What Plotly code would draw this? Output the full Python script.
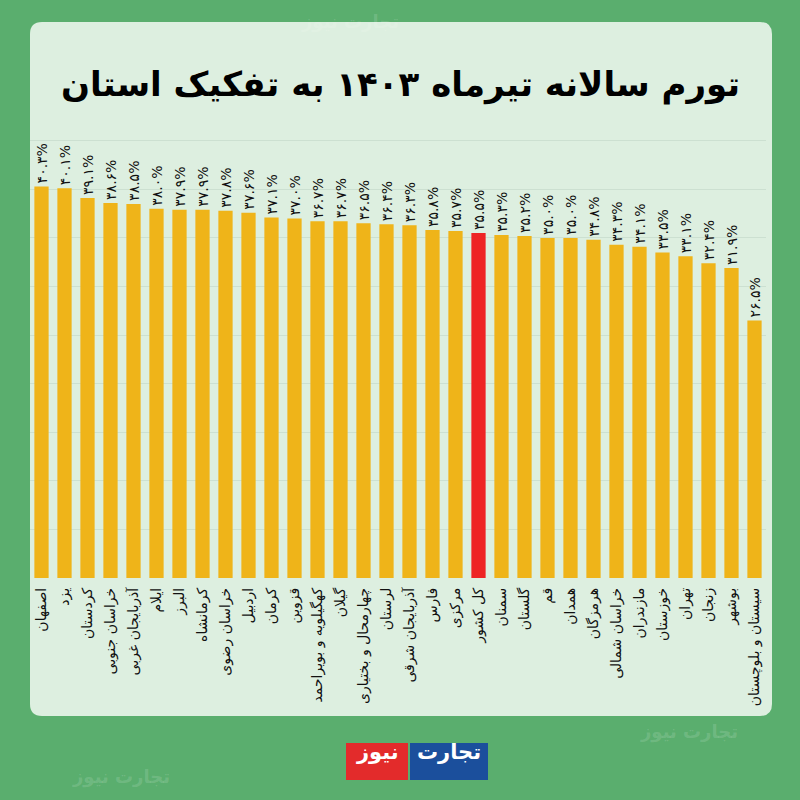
import plotly.graph_objects as go

provinces = ["اصفهان", "یزد", "کردستان", "خراسان جنوبی", "آذربایجان غربی", "ایلام", "البرز",
             "کرمانشاه", "خراسان رضوی", "اردبیل", "کرمان", "قزوین", "کهگیلویه و بویراحمد", "گیلان",
             "چهارمحال و بختیاری", "لرستان", "آذربایجان شرقی", "فارس", "مرکزی", "کل کشور", "سمنان",
             "گلستان", "قم", "همدان", "هرمزگان", "خراسان شمالی", "مازندران", "خوزستان", "تهران",
             "زنجان", "بوشهر", "سیستان و بلوچستان"]
inflation = [40.3, 40.1, 39.1, 38.6, 38.5, 38.0, 37.9, 37.9, 37.8, 37.6, 37.1, 37.0, 36.7, 36.7,
             36.5, 36.4, 36.3, 35.8, 35.7, 35.5, 35.3, 35.2, 35.0, 35.0, 34.8, 34.3, 34.1, 33.5,
             33.1, 32.4, 31.9, 26.5]
highlight = "کل کشور"
title_text = "تورم سالانه تیرماه ۱۴۰۳ به تفکیک استان"

FA = str.maketrans("0123456789", "۰۱۲۳۴۵۶۷۸۹")
labels = [f"{v:.1f}%".translate(FA) for v in inflation]
colors = ["#ee2424" if p == highlight else "#efb419" for p in provinces]

W = H = 800.0
def px(x):
    return x / W
def py(y):
    return 1 - y / H

fig = go.Figure(go.Bar(
    x=provinces, y=inflation, marker=dict(color=colors, line=dict(width=0)),
    text=labels, textposition="outside", textangle=-90, constraintext="none",
    textfont=dict(family="DejaVu Sans", size=14, color="#111"),
    cliponaxis=False, hoverinfo="skip",
))

# rounded light panel
x0, x1, y0, y1, r = px(30), px(772), py(22), py(716), 12 / W
panel = (f"M {x0+r},{y0} L {x1-r},{y0} Q {x1},{y0} {x1},{y0-r} "
         f"L {x1},{y1+r} Q {x1},{y1} {x1-r},{y1} L {x0+r},{y1} Q {x0},{y1} {x0},{y1+r} "
         f"L {x0},{y0-r} Q {x0},{y0} {x0+r},{y0} Z")
shapes = [dict(type="path", path=panel, xref="paper", yref="paper", layer="below",
               fillcolor="#ddefe0", line=dict(width=0))]
# logo boxes
shapes.append(dict(type="rect", xref="paper", yref="paper", layer="above",
                   x0=px(410), x1=px(488), y0=py(780), y1=py(743), fillcolor="#1b4f9c", line=dict(width=0)))
shapes.append(dict(type="rect", xref="paper", yref="paper", layer="above",
                   x0=px(346), x1=px(408), y0=py(780), y1=py(743), fillcolor="#e32b2b", line=dict(width=0)))

annotations = [
    dict(text=f"<b>{title_text}</b>", x=0.5, y=py(62), xref="paper", yref="paper",
         showarrow=False, font=dict(family="DejaVu Sans", size=34, color="#000")),
    dict(text="<b>تجارت</b>", x=px(449), y=py(766), xref="paper", yref="paper", showarrow=False,
         font=dict(family="DejaVu Sans", size=21, color="#fff")),
    dict(text="<b>نیوز</b>", x=px(377), y=py(766), xref="paper", yref="paper", showarrow=False,
         font=dict(family="DejaVu Sans", size=21, color="#fff")),
]
for wx, wy in [(350, 9), (740, 745), (70, 790)]:
    annotations.append(dict(text="<b>تجارت نیوز</b>", x=px(wx), y=py(wy), xref="paper", yref="paper",
                            showarrow=False, font=dict(family="DejaVu Sans", size=18,
                                                       color="rgba(255,255,255,0.15)")))

fig.update_layout(
    width=800, height=800, margin=dict(l=0, r=0, t=0, b=0),
    paper_bgcolor="#5aae6e", plot_bgcolor="rgba(0,0,0,0)",
    showlegend=False, bargap=0.38, shapes=shapes, annotations=annotations,
    xaxis=dict(domain=[px(30), px(766)], automargin=False, tickangle=-90, showgrid=False,
               ticks="", ticklabelstandoff=6, showline=False, zeroline=False,
               tickfont=dict(family="DejaVu Sans", size=14, color="#111")),
    yaxis=dict(domain=[py(578), py(131)], range=[0, 46], automargin=False, showticklabels=False,
               dtick=5, showgrid=True, gridcolor="rgba(200,220,205,0.8)", gridwidth=1,
               zeroline=False, showline=False),
)
fig.write_html("out.html", config={"displayModeBar": False},
               post_script="document.body.style.margin='0';")
